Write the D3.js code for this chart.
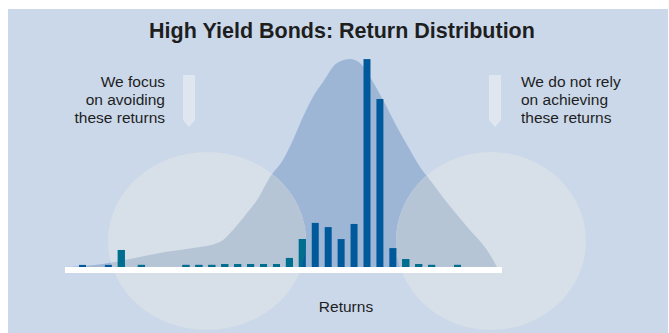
<!DOCTYPE html>
<html>
<head>
<meta charset="utf-8">
<script src="https://cdn.jsdelivr.net/npm/d3@7"></script>
<style>
  html, body { margin: 0; padding: 0; background: #ffffff; }
  svg { display: block; }
  text { font-family: "Liberation Sans", Arial, Helvetica, sans-serif; fill: #1e1e1e; }
</style>
</head>
<body>
<svg id="chart" width="669" height="333"></svg>
<script>
// ---- data ----
const title = "High Yield Bonds: Return Distribution";
const xAxisLabel = "Returns";
const leftNote = ["We focus", "on avoiding", "these returns"];
const rightNote = ["We do not rely", "on achieving", "these returns"];

// histogram: return bin index and frequency (relative units)
const bins = [0, 2, 3, 4.55, 8, 9, 10, 11, 12, 13, 14, 15, 16, 17, 18, 19, 20, 21, 22, 23, 24, 25, 26, 27, 29];
const freq = [1, 1, 8.1, 1, 1, 1, 1, 1.4, 1.4, 1.4, 1.4, 1.4, 4.3, 13.3, 21, 19, 13.3, 20.5, 99, 80, 9, 3.8, 1.4, 1, 1];

// distribution curve (bin position, density in same units)
const curveBins = [-1.35, -0.19, 2.13, 3.29, 5.99, 8.55, 10.63, 11.64, 12.72, 13.5, 14.5, 15.5, 16.28, 17.05, 17.82, 18.6, 19.68, 20.69, 21.46, 22.23, 23.24, 24.32, 25.33, 26.1, 26.87, 28.03, 29.96, 31.28, 32.05];
const curveDensity = [0, 0.3, 2.0, 3.3, 6.7, 9.0, 11.9, 17.6, 25.7, 31.9, 42.9, 51.0, 60.5, 71.4, 81.0, 88.1, 97.1, 99.0, 97.1, 90.5, 79.5, 66.7, 55.7, 47.6, 41.4, 31.9, 17.6, 8.1, 0];

// ---- drawing ----
const svg = d3.select("#chart");
const x = d3.scaleLinear().domain([0, 29]).range([82.5, 457.5]);
const y = d3.scaleLinear().domain([0, 100]).range([267, 57]);
const barW = (x(1) - x(0)) * 0.54;

const C = {
  bg: "#cbd8ea", area: "#9eb6d6", ellBg: "#d7dfe8", ellArea: "#b5c5d6",
  bar: "#00599a", barIn: "#006e8f", arrow: "#dfe6f0"
};

// panel
svg.append("rect").attr("x", 8).attr("y", 9).attr("width", 660).attr("height", 324).attr("fill", C.bg);

const ellipses = [
  {cx: 207, cy: 241, rx: 99, ry: 89},
  {cx: 491, cy: 241, rx: 95, ry: 89}
];
const defs = svg.append("defs");
const cp = defs.append("clipPath").attr("id", "ellClip");
cp.selectAll("ellipse").data(ellipses).join("ellipse")
  .attr("cx", d => d.cx).attr("cy", d => d.cy).attr("rx", d => d.rx).attr("ry", d => d.ry);

const curveData = curveBins.map((b, i) => ({b, v: curveDensity[i]}));
const area = d3.area().x(d => x(d.b)).y0(y(0)).y1(d => y(d.v)).curve(d3.curveMonotoneX);

svg.append("path").datum(curveData).attr("d", area).attr("fill", C.area);

svg.append("g").selectAll("ellipse").data(ellipses).join("ellipse")
  .attr("cx", d => d.cx).attr("cy", d => d.cy).attr("rx", d => d.rx).attr("ry", d => d.ry)
  .attr("fill", C.ellBg);

svg.append("path").datum(curveData).attr("d", area).attr("fill", C.ellArea)
  .attr("clip-path", "url(#ellClip)");

const barData = bins.map((b, i) => ({b, v: freq[i]}));
function drawBars(g, color) {
  g.selectAll("rect").data(barData).join("rect")
    .attr("x", d => x(d.b) - barW / 2)
    .attr("y", d => y(d.v))
    .attr("width", barW)
    .attr("height", d => y(0) - y(d.v))
    .attr("fill", color);
}
drawBars(svg.append("g"), C.bar);
drawBars(svg.append("g").attr("clip-path", "url(#ellClip)"), C.barIn);

// white baseline
svg.append("rect").attr("x", 65).attr("y", 267).attr("width", 437).attr("height", 6).attr("fill", "#ffffff");

// title
svg.append("text").attr("x", 342).attr("y", 38).attr("text-anchor", "middle")
  .style("font-size", "21.5px").style("font-weight", "bold").text(title);

// notes
const noteL = svg.append("text").attr("text-anchor", "end").style("font-size", "15.5px");
noteL.selectAll("tspan").data(leftNote).join("tspan")
  .attr("x", 165).attr("y", (d, i) => 86.7 + i * 18.3).text(d => d);
const noteR = svg.append("text").attr("text-anchor", "start").style("font-size", "15.5px");
noteR.selectAll("tspan").data(rightNote).join("tspan")
  .attr("x", 521).attr("y", (d, i) => 86.7 + i * 18.3).text(d => d);

// arrows
const arrows = [183, 489];
svg.append("g").selectAll("path").data(arrows).join("path")
  .attr("d", ax => `M${ax},75 H${ax + 12} V120 L${ax + 6},127 L${ax},120 Z`)
  .attr("fill", C.arrow);

// x label
svg.append("text").attr("x", 346).attr("y", 311.5).attr("text-anchor", "middle")
  .style("font-size", "15.5px").text(xAxisLabel);
</script>
</body>
</html>
